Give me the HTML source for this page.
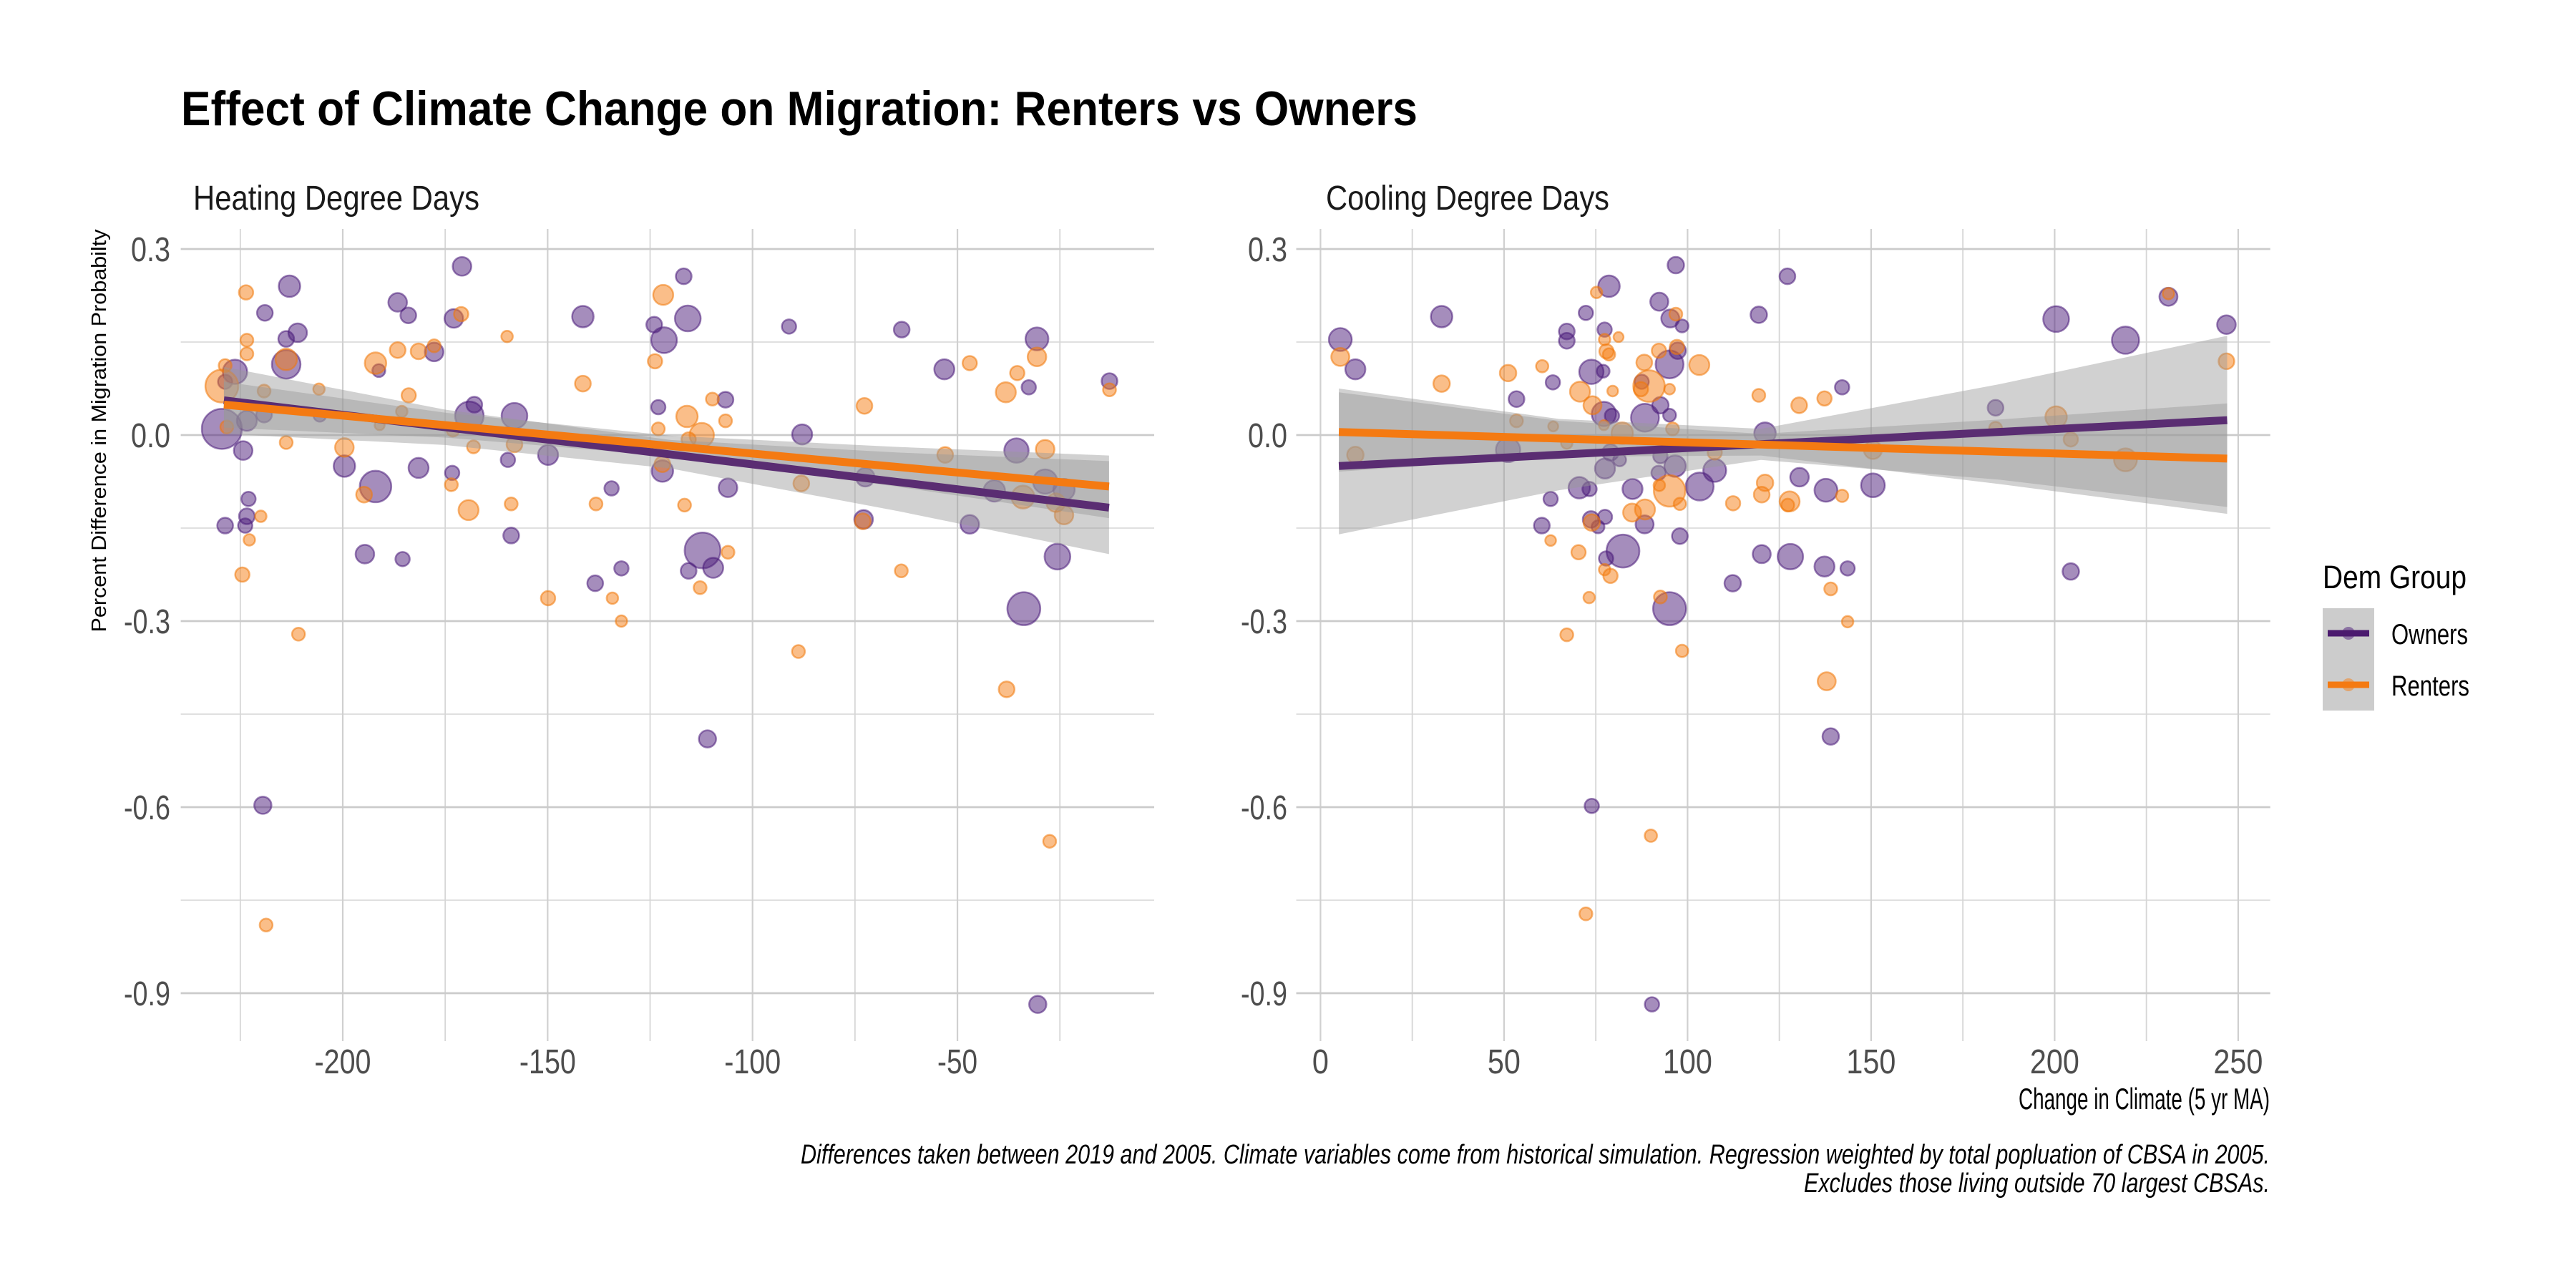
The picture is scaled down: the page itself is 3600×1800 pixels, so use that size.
<!DOCTYPE html>
<html>
<head>
<meta charset="utf-8">
<style>
html,body{margin:0;padding:0;background:#fff;}
svg{display:block;}
.nar{font-family:"Liberation Sans Narrow","Liberation Sans",sans-serif;}
.reg{font-family:"Liberation Sans",sans-serif;}
</style>
</head>
<body>
<svg id="chart" width="3600" height="1800" viewBox="0 0 3600 1800" xmlns="http://www.w3.org/2000/svg">
  <rect x="0" y="0" width="3600" height="1800" fill="#ffffff"/>
  <text class="nar" x="253" y="175" font-size="68" font-weight="bold" fill="#000" textLength="1728" lengthAdjust="spacingAndGlyphs">Effect of Climate Change on Migration: Renters vs Owners</text>
  <text class="nar" x="270" y="293" font-size="48" fill="#1a1a1a" textLength="400" lengthAdjust="spacingAndGlyphs">Heating Degree Days</text>
  <text class="nar" x="1853" y="293" font-size="48" fill="#1a1a1a" textLength="396" lengthAdjust="spacingAndGlyphs">Cooling Degree Days</text>
  <text class="reg" transform="translate(148,602) rotate(-90)" text-anchor="middle" font-size="29" fill="#000" textLength="563" lengthAdjust="spacingAndGlyphs">Percent Difference in Migration Probabilty</text>
  <text class="nar" x="3172" y="1550" text-anchor="end" font-size="42" fill="#000" textLength="351" lengthAdjust="spacingAndGlyphs">Change in Climate (5 yr MA)</text>
  <text class="nar" x="3172" y="1626" text-anchor="end" font-size="38" font-style="italic" fill="#000" textLength="2053" lengthAdjust="spacingAndGlyphs">Differences taken between 2019 and 2005. Climate variables come from historical simulation. Regression weighted by total popluation of CBSA in 2005.</text>
  <text class="nar" x="3172" y="1666" text-anchor="end" font-size="38" font-style="italic" fill="#000" textLength="651" lengthAdjust="spacingAndGlyphs">Excludes those living outside 70 largest CBSAs.</text>
  <g id="gridL"></g>
  <g id="gridR"></g>
  <g id="ptsL"></g>
  <g id="ptsR"></g>
  <g id="fitL"></g>
  <g id="fitR"></g>
  <g id="axes"></g>
  <g>
    <text class="reg" x="3246" y="822" font-size="45" fill="#000" textLength="201" lengthAdjust="spacingAndGlyphs">Dem Group</text>
    <rect x="3246" y="850" width="72" height="143" fill="#cccccc"/>
    <g>
      <circle cx="3282" cy="885" r="9" fill="rgba(75,28,122,0.5)"/>
      <line x1="3253" y1="885" x2="3311" y2="885" stroke="#4b1a6e" stroke-width="9"/>
      <text class="nar" x="3342" y="900" font-size="40" fill="#000" textLength="107" lengthAdjust="spacingAndGlyphs">Owners</text>
    </g>
    <g>
      <circle cx="3282" cy="957" r="9" fill="rgba(245,125,20,0.5)"/>
      <line x1="3253" y1="957" x2="3311" y2="957" stroke="#f47a12" stroke-width="9"/>
      <text class="nar" x="3342" y="972" font-size="40" fill="#000" textLength="109" lengthAdjust="spacingAndGlyphs">Renters</text>
    </g>
  </g>
</svg>
<script>
// ---------- Heating panel data ----------
const ownersHX = [-170.9,-213,-219,-186.6,-184,-172.9,-141.4,-116.8,-124,-115.8,-121.6,-91.1,-63.6,-30.6,-53.2,-32.6,-12.9,-211,-213.8,-213.8,-226.3,-228.7,-229.5,-223.4,-219.2,-224.3,-223,-223.4,-228.7,-223.8,-191.2,-177.7,-205.6,-167.9,-169.1,-158.1,-149.9,-159.7,-199.6,-181.5,-173.3,-192,-194.6,-185.4,-158.9,-134.4,-122,-123,-106.6,-106,-87.9,-72.5,-72.9,-35.6,-47,-41,-28.6,-24,-25.6,-33.8,-112.2,-109.6,-115.6,-138.4,-132,-219.5,-111,-30.4];
const ownersHY = [.272,.240,.197,.214,.193,.188,.191,.256,.178,.188,.153,.175,.170,.155,.106,.077,.087,.165,.155,.114,.102,.086,.010,.023,.033,-.025,-.103,-.131,-.146,-.146,.104,.134,.032,.049,.031,.031,-.032,-.040,-.050,-.053,-.061,-.083,-.192,-.200,-.162,-.086,-.058,.045,.057,-.085,.001,-.068,-.136,-.025,-.144,-.090,-.075,-.088,-.196,-.280,-.186,-.214,-.219,-.239,-.215,-.597,-.49,-.918];
const ownersHPop = [13,15,11,13,11,13,15,11,11,18,18,10,11,16,14,10,11,13,11,20,17,10,28,14,11,13,10,11,11,10,9,13,9,11,20,18,14,10,15,14,10,22,13,10,11,10,15,10,11,13,14,13,13,17,13,15,17,15,18,23,25,14,11,11,10,12,12,12];
const rentersHX = [-223.6,-223.4,-223.4,-213.8,-228.7,-229.5,-228.3,-219.2,-213.8,-224.5,-222.8,-220,-210.8,-205.8,-199.6,-194.8,-192,-186.6,-181.5,-177.7,-171.1,-183.9,-185.6,-191,-173.1,-168.1,-173.5,-169.3,-159.9,-158.1,-158.9,-149.9,-141.4,-138.2,-134.2,-132,-121.8,-123.8,-123,-116,-112.4,-115.6,-109.8,-106.6,-116.6,-112.8,-106,-122,-88.1,-72.7,-63.7,-73.1,-53,-47,-35.4,-38.2,-30.6,-28.6,-34,-26,-24,-12.9,-38,-27.5,-218.7,-88.8];
const rentersHY = [.230,.153,.131,.122,.112,.079,.013,.071,-.012,-.225,-.169,-.131,-.321,.074,-.020,-.096,.116,.137,.135,.144,.195,.064,.038,.016,.008,-.019,-.080,-.121,.159,-.015,-.111,-.263,.083,-.111,-.263,-.300,.226,.119,.010,.030,0,-.007,.058,.023,-.113,-.246,-.189,-.047,-.078,.047,-.219,-.139,-.032,.116,.100,.069,.126,-.023,-.100,-.109,-.129,.073,-.41,-.655,-.79,-.349];
const rentersHPop = [10,9,9,15,9,23,9,9,9,10,8,8,9,8,13,11,15,11,11,9,10,10,8,7,9,9,9,14,8,11,9,10,11,9,8,8,14,10,9,15,17,10,9,9,9,9,9,11,11,11,9,11,11,10,10,14,13,13,16,13,13,9,11,9,9,9];
const fitHX = [-229,-175,-120,-65,-13];
const fitHOwners = [0.056,0.0127,-0.0313,-0.0754,-0.117];
const ciHOwnersLo = [0.002,-0.016,-0.054,-0.122,-0.192];
const ciHOwnersHi = [0.110,0.041,-0.008,-0.028,-0.042];
const fitHRenters = [0.049,0.016,-0.0176,-0.0512,-0.083];
const ciHRentersLo = [0.012,-0.004,-0.034,-0.083,-0.134];
const ciHRentersHi = [0.086,0.036,-0.001,-0.019,-0.033];
const xTicksH = [-200,-150,-100,-50];
const xMinorH = [-225,-175,-125,-75,-25];

// ---------- Cooling panel data ----------
const ownersCX = [96.8,127.2,78.6,33,92.3,72.3,119.4,95.3,98.5,67.1,67.1,77.4,5.4,9.5,97.3,95.1,73.8,77,63.3,53.4,87.5,142.1,92.6,95.1,77.2,79.4,88.4,121.1,51.1,79,81.5,92.6,96.6,77.5,107.4,92.1,130.5,103.3,137.7,150.5,85,70.5,73.3,62.7,60.3,73.7,77.5,75.6,88.3,97.9,82.4,77.8,120.2,128,137.3,143.6,112.3,95.1,139,73.9,90.3,200.4,219.3,231,246.8,183.9,204.4];
const ownersCY = [.274,.256,.240,.191,.215,.197,.194,.188,.176,.167,.152,.170,.154,.106,.136,.114,.102,.103,.085,.058,.086,.077,.048,.032,.034,.031,.028,.003,-.024,-.028,-.040,-.034,-.050,-.054,-.057,-.061,-.068,-.083,-.089,-.081,-.087,-.085,-.087,-.103,-.146,-.136,-.132,-.148,-.144,-.163,-.187,-.199,-.192,-.196,-.212,-.215,-.239,-.280,-.486,-.598,-.918,.187,.153,.223,.178,.044,-.220];
const ownersCPop = [11.5,11,15,15,12.6,10,11.5,12.6,9,11,11,10,16,14,11.5,19.5,17,9,10,11,10,10,11.5,9,17,10,19.5,15,17,11.5,9,10,15,14,16,10,13,19.5,16,16.6,14,15,10,10,11,11.5,10,9,12.6,11,23,10,12.6,17.8,14,10,11.5,23,11.5,10,10,18,19,12.6,13,11,11.5];
const rentersCX = [75.2,96.8,77.4,81.2,77.9,78.6,92.2,97.1,103.2,88.2,5.4,60.4,51.1,33,89.5,87.3,95.1,79.6,70.7,74.1,119.4,130.4,137.3,95.9,53.4,63.4,77.2,82.2,67.1,9.5,107.4,150.5,121.1,120.2,95.1,92.3,97.9,112.4,127.8,127.3,142.1,84.9,88.4,73.9,62.7,70.3,77.4,79,73.2,92.6,139,143.6,67.1,98.5,137.9,90,72.3,231,246.8,200.4,183.9,204.4,219.3];
const rentersCY = [.230,.195,.154,.158,.135,.130,.136,.142,.113,.117,.126,.111,.100,.083,.079,.074,.074,.071,.070,.048,.064,.048,.059,.010,.023,.014,.016,.003,-.013,-.032,-.028,-.024,-.077,-.096,-.090,-.081,-.111,-.110,-.107,-.113,-.098,-.125,-.120,-.141,-.170,-.189,-.217,-.227,-.262,-.261,-.248,-.301,-.322,-.348,-.397,-.646,-.772,.228,.119,.029,.011,-.007,-.040];
const rentersCPop = [8,9,8,7,10,8.6,10,10,14,11,12.6,8.6,11.5,11.5,22,10,7.5,7.5,14,12.6,9,11,10,9,9,7,7,15,8,11.5,10,12.6,11.5,11,22,8,8.6,10,14,9,8.6,12.6,14,11.5,7.5,10,8,10,8,9,9,8,9,8.6,12.6,8.6,9,8,11,15,9,10,16];
const fitCX = [5,65,120,185,247];
const fitCOwners = [-0.050,-0.0317,-0.0148,0.0051,0.024];
const ciCOwnersLo = [-0.160,-0.089,-0.040,-0.072,-0.116];
const ciCOwnersHi = [0.075,0.026,0.010,0.082,0.160];
const fitCRenters = [0.005,-0.0057,-0.0153,-0.027,-0.038];
const ciCRentersLo = [-0.059,-0.035,-0.033,-0.079,-0.127];
const ciCRentersHi = [0.069,0.023,0.002,0.025,0.051];
const xTicksC = [0,50,100,150,200,250];
const xMinorC = [25,75,125,175,225];

// shared y
const yTicks = [0.3,0.0,-0.3,-0.6,-0.9];
const yTickLabels = ["0.3","0.0","-0.3","-0.6","-0.9"];
const yMinor = [0.15,-0.15,-0.45,-0.75];

// ---------- scales ----------
const NS = "http://www.w3.org/2000/svg";
const PT = 320, PB = 1455;
const yS = v => 608 - v * 866.7;
const xH = v => 479 + (v + 200) * 5.727;
const xC = v => 1845.4 + v * 5.13;
const panelH = {x0: 252.6, x1: 1613};
const panelC = {x0: 1811.5, x1: 3172.7};
const rS = p => p * 1.0;

function labW(s) {
  let w = 0;
  for (const ch of s) w += (ch === '-') ? 10 : (ch === '.') ? 9 : 23;
  return w;
}

function mk(tag, attrs, parent) {
  const el = document.createElementNS(NS, tag);
  for (const k in attrs) el.setAttribute(k, attrs[k]);
  parent.appendChild(el);
  return el;
}

function drawGrid(g, panel, xs, majors, minors, axisG, labX) {
  yMinor.forEach(v => {
    const l = mk('line', {x1: panel.x0, x2: panel.x1, y1: yS(v), y2: yS(v), stroke: '#dcdcdc', 'stroke-width': 1.8}, g);
    
    
  });
  minors.forEach(v => {
    const l = mk('line', {x1: xs(v), x2: xs(v), y1: PT, y2: PB, stroke: '#d6d6d6', 'stroke-width': 1.8}, g);
    
    
  });
  majors.forEach(v => {
    const l = mk('line', {x1: xs(v), x2: xs(v), y1: PT, y2: PB, stroke: '#d0d0d0', 'stroke-width': 2.2}, g);
    
    
    const s = String(v);
    const t = mk('text', {x: xs(v), y: 1500, 'text-anchor': 'middle', 'font-size': 48, fill: '#4d4d4d', class: 'nar', textLength: labW(s), lengthAdjust: 'spacingAndGlyphs'}, axisG);
    t.textContent = s;
    
    
  });
  yTicks.forEach((v, i) => {
    const l = mk('line', {x1: panel.x0, x2: panel.x1, y1: yS(v), y2: yS(v), stroke: '#cbcbcb', 'stroke-width': 2.8}, g);
    
    
    const s = yTickLabels[i];
    const t = mk('text', {x: labX, y: yS(v) + 17, 'text-anchor': 'end', 'font-size': 48, fill: '#4d4d4d', class: 'nar', textLength: labW(s), lengthAdjust: 'spacingAndGlyphs'}, axisG);
    t.textContent = s;
    
    
  });
}

function drawPoints(g, xs, X, Y, P, fill, stroke, name) {
  X.forEach((v, i) => {
    const c = mk('circle', {cx: xs(v), cy: yS(Y[i]), r: rS(P[i]), fill: fill, stroke: stroke, 'stroke-width': 2.5}, g);
    
    
  });
}

function drawRibbon(g, xs, X, lo, hi, name) {
  let d = '';
  X.forEach((v, i) => { d += (i ? 'L' : 'M') + xs(v).toFixed(1) + ',' + yS(hi[i]).toFixed(1); });
  for (let i = X.length - 1; i >= 0; i--) d += 'L' + xs(X[i]).toFixed(1) + ',' + yS(lo[i]).toFixed(1);
  d += 'Z';
  const p = mk('path', {d: d, fill: 'rgba(153,153,153,0.45)'}, g);
  
  
}

function drawLine(g, xs, X, Y, color, name) {
  const pts = X.map((v, i) => xs(v).toFixed(1) + ',' + yS(Y[i]).toFixed(1)).join(' ');
  const l = mk('polyline', {points: pts, fill: 'none', stroke: color, 'stroke-width': 11, 'stroke-linejoin': 'round'}, g);
  
  
}

const axesG = document.getElementById('axes');
drawGrid(document.getElementById('gridL'), panelH, xH, xTicksH, xMinorH, axesG, 238);
drawGrid(document.getElementById('gridR'), panelC, xC, xTicksC, xMinorC, axesG, 1799);

const OF = 'rgba(75,28,122,0.5)', OS = 'rgba(75,28,122,0.55)';
const RF = 'rgba(245,125,20,0.5)', RS = 'rgba(240,120,10,0.55)';
drawPoints(document.getElementById('ptsL'), xH, ownersHX, ownersHY, ownersHPop, OF, OS, 'owner-point-heating');
drawPoints(document.getElementById('ptsL'), xH, rentersHX, rentersHY, rentersHPop, RF, RS, 'renter-point-heating');
drawPoints(document.getElementById('ptsR'), xC, ownersCX, ownersCY, ownersCPop, OF, OS, 'owner-point-cooling');
drawPoints(document.getElementById('ptsR'), xC, rentersCX, rentersCY, rentersCPop, RF, RS, 'renter-point-cooling');

const fL = document.getElementById('fitL'), fR = document.getElementById('fitR');
drawRibbon(fL, xH, fitHX, ciHOwnersLo, ciHOwnersHi, 'ci-band-owners-heating');
drawRibbon(fL, xH, fitHX, ciHRentersLo, ciHRentersHi, 'ci-band-renters-heating');
drawLine(fL, xH, fitHX, fitHOwners, '#5a2d72', 'fit-line-owners-heating');
drawLine(fL, xH, fitHX, fitHRenters, '#f47a12', 'fit-line-renters-heating');
drawRibbon(fR, xC, fitCX, ciCOwnersLo, ciCOwnersHi, 'ci-band-owners-cooling');
drawRibbon(fR, xC, fitCX, ciCRentersLo, ciCRentersHi, 'ci-band-renters-cooling');
drawLine(fR, xC, fitCX, fitCOwners, '#5a2d72', 'fit-line-owners-cooling');
drawLine(fR, xC, fitCX, fitCRenters, '#f47a12', 'fit-line-renters-cooling');
</script>
</body>
</html>
